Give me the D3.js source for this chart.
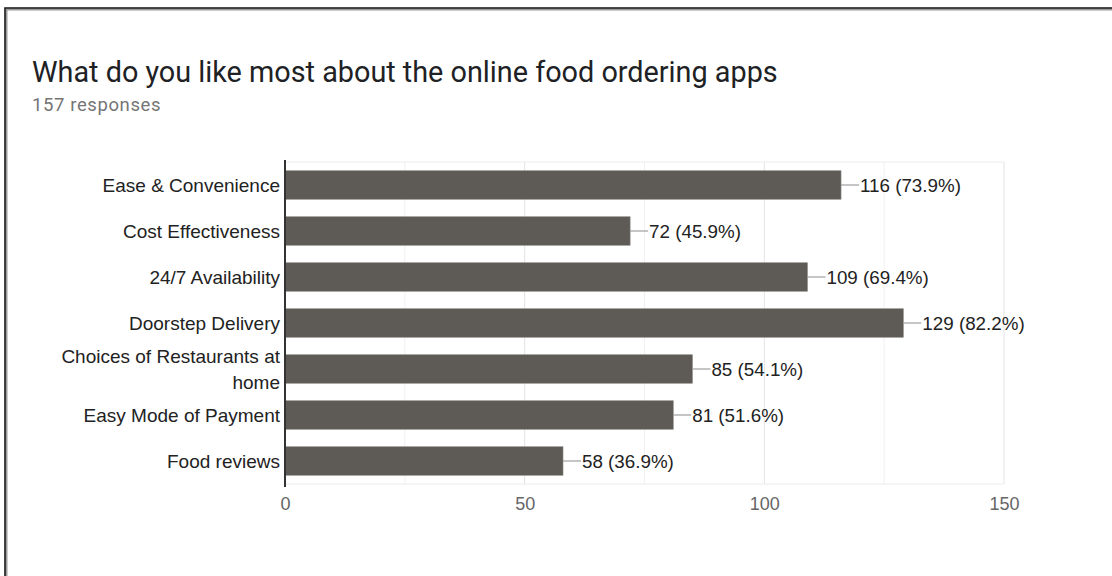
<!DOCTYPE html>
<html>
<head>
<meta charset="utf-8">
<script src="https://cdn.jsdelivr.net/npm/d3@7"></script>
<style>
  html, body { margin: 0; padding: 0; background: #fff; }
  svg { display: block; }
</style>
</head>
<body>
<svg id="chart" width="1112" height="576"></svg>
<script>
// Survey answers and counts
const categories = [
  "Ease & Convenience",
  "Cost Effectiveness",
  "24/7 Availability",
  "Doorstep Delivery",
  "Choices of Restaurants at home",
  "Easy Mode of Payment",
  "Food reviews"
];
const counts = [116, 72, 109, 129, 85, 81, 58];
const percents = ["73.9%", "45.9%", "69.4%", "82.2%", "54.1%", "51.6%", "36.9%"];
const majorTicks = [0, 50, 100, 150];
const minorTicks = [25, 75, 125];
const totalResponses = 157;
const titleText = "What do you like most about the online food ordering apps";

// Labels that wrap onto two lines
const labelLines = {
  "Choices of Restaurants at home": ["Choices of Restaurants at", "home"]
};

const svg = d3.select("#chart");

// Card frame (top and left edges)
svg.append("path")
  .attr("d", "M6,576 V9 H1112")
  .attr("fill", "none")
  .attr("stroke", "#9a9a9a")
  .attr("stroke-width", 3);
svg.append("path")
  .attr("d", "M5,576 V8 H1112")
  .attr("fill", "none")
  .attr("stroke", "#222")
  .attr("stroke-width", 1.6);

// Title and subtitle
svg.append("text")
  .attr("x", 32).attr("y", 82)
  .attr("font-family", "Roboto, sans-serif")
  .attr("font-size", 28.8)
  .attr("fill", "#202124")
  .text(titleText);
svg.append("text")
  .attr("x", 32).attr("y", 111)
  .attr("font-family", "Roboto, sans-serif")
  .attr("font-size", 18.5)
  .attr("letter-spacing", 0.6)
  .attr("fill", "#757575")
  .text(totalResponses + " responses");

const plot = { left: 285, right: 1004, top: 162, bottom: 484 };

const x = d3.scaleLinear().domain([0, 150]).range([plot.left, plot.right]);
const y = d3.scaleBand().domain(categories).range([plot.top, plot.bottom]).paddingInner(0.38).paddingOuter(0.19);

// Minor gridlines
svg.append("g").selectAll("line").data(minorTicks).join("line")
  .attr("x1", d => x(d)).attr("x2", d => x(d))
  .attr("y1", plot.top).attr("y2", plot.bottom)
  .attr("stroke", "#f1f1f1").attr("stroke-width", 1);

// Major gridlines
svg.append("g").selectAll("line").data(majorTicks.slice(1)).join("line")
  .attr("x1", d => x(d)).attr("x2", d => x(d))
  .attr("y1", plot.top).attr("y2", plot.bottom)
  .attr("stroke", "#e3e3e3").attr("stroke-width", 1);

// Top and bottom plot edges
svg.append("line")
  .attr("x1", plot.left).attr("x2", plot.right)
  .attr("y1", plot.top).attr("y2", plot.top)
  .attr("stroke", "#ececec");
svg.append("line")
  .attr("x1", plot.left).attr("x2", plot.right)
  .attr("y1", plot.bottom).attr("y2", plot.bottom)
  .attr("stroke", "#ececec");

const rows = categories.map((c, i) => ({ cat: c, value: counts[i], pct: percents[i] }));

// Bars
svg.append("g").selectAll("rect").data(rows).join("rect")
  .attr("x", x(0))
  .attr("y", d => y(d.cat))
  .attr("width", d => x(d.value) - x(0))
  .attr("height", y.bandwidth())
  .attr("fill", "#5e5b57")
  .attr("stroke", "#8a8884")
  .attr("stroke-width", 0.6);

// Leader lines and value labels
const vl = svg.append("g");
vl.selectAll("line").data(rows).join("line")
  .attr("x1", d => x(d.value)).attr("x2", d => x(d.value) + 18)
  .attr("y1", d => y(d.cat) + y.bandwidth() / 2)
  .attr("y2", d => y(d.cat) + y.bandwidth() / 2)
  .attr("stroke", "#9e9e9e").attr("stroke-width", 1.2);
vl.selectAll("text").data(rows).join("text")
  .attr("x", d => x(d.value) + 19)
  .attr("y", d => y(d.cat) + y.bandwidth() / 2 + 6.5)
  .attr("font-family", "'Liberation Sans', Arial, sans-serif")
  .attr("font-size", 18.8)
  .attr("fill", "#222")
  .text(d => d.value + " (" + d.pct + ")");

// Category axis
const yAxis = d3.axisLeft(y).tickSize(0).tickPadding(0).tickFormat("");
const yg = svg.append("g").attr("transform", `translate(${plot.left},0)`).call(yAxis);
yg.select(".domain").remove();

svg.append("line")
  .attr("x1", plot.left).attr("x2", plot.left)
  .attr("y1", plot.top - 2).attr("y2", plot.bottom + 3)
  .attr("stroke", "#333").attr("stroke-width", 2);

const cl = svg.append("g");
rows.forEach(d => {
  const lines = labelLines[d.cat] || [d.cat];
  const cy = y(d.cat) + y.bandwidth() / 2;
  const lh = 26;
  const start = cy - (lines.length - 1) * lh / 2 + 6.5;
  lines.forEach((ln, k) => {
    cl.append("text")
      .attr("x", plot.left - 5)
      .attr("y", start + k * lh)
      .attr("text-anchor", "end")
      .attr("font-family", "'Liberation Sans', Arial, sans-serif")
      .attr("font-size", 19)
      .attr("fill", "#222")
      .text(ln);
  });
});

// Value axis
const xAxis = d3.axisBottom(x).tickValues(majorTicks).tickSize(0).tickPadding(0);
const xg = svg.append("g").attr("transform", `translate(0,${plot.bottom})`).call(xAxis);
xg.select(".domain").remove();
xg.selectAll("text")
  .attr("dy", null)
  .attr("y", 26)
  .attr("font-family", "'Liberation Sans', Arial, sans-serif")
  .attr("font-size", 18)
  .attr("fill", "#666");
</script>
</body>
</html>
